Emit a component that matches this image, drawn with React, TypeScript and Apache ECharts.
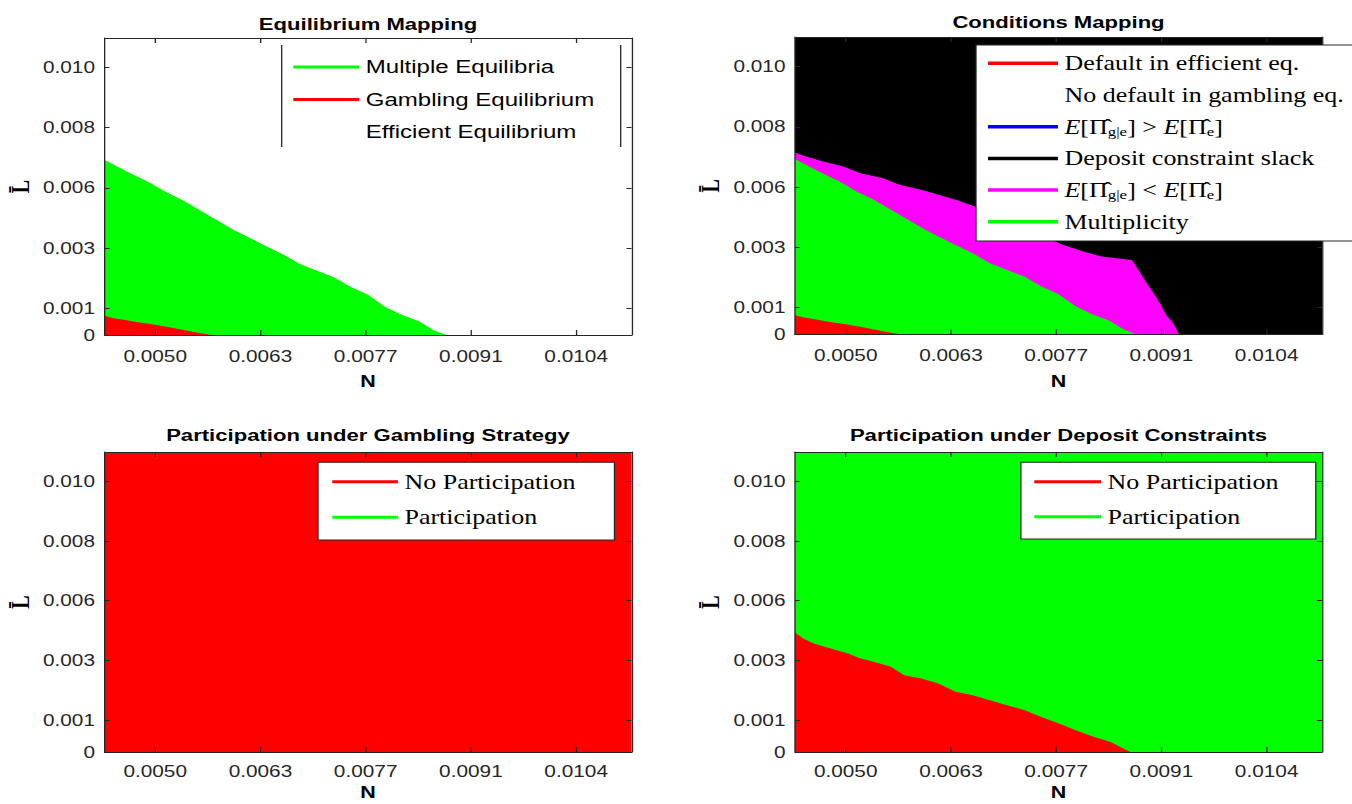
import React, { useEffect, useRef } from "react";
import * as echarts from "echarts";

// The exported figure is stretched horizontally; the chart is drawn narrower and scaled.
const STRETCH = 1.3;
const PAGE_W = 1352;
const PAGE_H = 804;
const u = (px: number) => px / STRETCH;

// ---- axes ----
const X_MIN = 0.00435;
const X_MAX = 0.01111;
const X_TICKS = [0.005, 0.00635, 0.0077, 0.00905, 0.0104];
const X_TICK_LABELS = ["0.0050", "0.0063", "0.0077", "0.0091", "0.0104"];
const Y_MAX = 0.0111;
const Y_MIN_TOP = 0;
const Y_MIN_BOTTOM = -0.0002;
const Y_TICKS = [0.001, 0.00325, 0.0055, 0.00775, 0.01];
const Y_TICK_LABELS = ["0", "0.001", "0.003", "0.006", "0.008", "0.010"];

const TITLES = [
  "Equilibrium Mapping",
  "Conditions Mapping",
  "Participation under Gambling Strategy",
  "Participation under Deposit Constraints",
];

// ---- region boundaries [N, L] (upper edge of each region) ----
const MULTIPLICITY: number[][] = [
  [0.00435, 0.00655], [0.00453, 0.00627], [0.0047, 0.00602], [0.00492, 0.00571],
  [0.00514, 0.00534], [0.00536, 0.00503], [0.00558, 0.00465], [0.0058, 0.00428],
  [0.00602, 0.00391], [0.00619, 0.00366], [0.00641, 0.00334], [0.00663, 0.00303],
  [0.00685, 0.00266], [0.00707, 0.00241], [0.00729, 0.00216], [0.00751, 0.00179],
  [0.00773, 0.0015], [0.00795, 0.00105], [0.00817, 0.00075], [0.00839, 0.0005],
  [0.00856, 0.0002], [0.00873, 0.0],
];
const GAMBLING: number[][] = [
  [0.00435, 0.00072], [0.00445, 0.00064], [0.00462, 0.00056], [0.0048, 0.00047],
  [0.005, 0.00038], [0.0052, 0.00028], [0.0054, 0.00017], [0.00555, 0.00008],
  [0.00572, 0.0],
];
const PROFIT_LESS: number[][] = [
  [0.00435, 0.00679], [0.00448, 0.00665], [0.0047, 0.00646], [0.00497, 0.00627],
  [0.00519, 0.00602], [0.00547, 0.00584], [0.00569, 0.00559], [0.00597, 0.0054],
  [0.00619, 0.00521], [0.00641, 0.00503], [0.00666, 0.00478], [0.0072, 0.0041],
  [0.00779, 0.00334], [0.00806, 0.00309], [0.00828, 0.00291], [0.00867, 0.00278],
  [0.00878, 0.00229], [0.00886, 0.00191], [0.00895, 0.00154], [0.00903, 0.00117],
  [0.00911, 0.00073], [0.0092, 0.00042], [0.00928, 0.0],
];
const NO_PART_DEPOSIT: number[][] = [
  [0.00435, 0.0043], [0.00445, 0.00408], [0.00459, 0.00389], [0.00481, 0.0037],
  [0.00503, 0.00351], [0.00519, 0.00332], [0.00536, 0.0032], [0.00558, 0.00301],
  [0.00575, 0.00269], [0.00597, 0.00257], [0.00619, 0.00238], [0.00641, 0.00207],
  [0.00663, 0.00194], [0.00685, 0.00175], [0.00707, 0.00156], [0.00729, 0.00138],
  [0.00751, 0.00112], [0.00773, 0.00088], [0.00795, 0.00062], [0.00818, 0.00037],
  [0.0084, 0.00018], [0.00856, -0.00007], [0.00865, -0.0002],
];
const FULL: number[][] = [[X_MIN, Y_MAX], [X_MAX, Y_MAX]];

const GT_NAME = "E[Π̂g|e] > E[Π̂e]";
const LT_NAME = "E[Π̂g|e] < E[Π̂e]";
const RICH_NAMES: Record<string, string> = {
  [GT_NAME]: "{it|E}[Π\u0302{sub|g|e}] > {it|E}[Π\u0302{sub|e}]",
  [LT_NAME]: "{it|E}[Π\u0302{sub|g|e}] < {it|E}[Π\u0302{sub|e}]",
};

const RED = "#ff0000";
const GREEN = "#00ff00";
const MAGENTA = "#ff00ff";
const BLUE = "#0000ff";
const BLACK = "#000000";
const WHITE = "#ffffff";
const AXIS = "#262626";

const PANELS = [
  { left: 104.5, top: 38, width: 527, height: 297, ymin: Y_MIN_TOP, titleY: 25, nameGap: 38 },
  { left: 795, top: 37, width: 527, height: 297.5, ymin: Y_MIN_TOP, titleY: 23.5, nameGap: 38 },
  { left: 104.5, top: 452, width: 527, height: 300, ymin: Y_MIN_BOTTOM, titleY: 436.5, nameGap: 32 },
  { left: 795, top: 452, width: 527, height: 300, ymin: Y_MIN_BOTTOM, titleY: 436.5, nameGap: 32 },
];

const pick = (vals: number[], labels: string[]) => (v: number) => {
  let best = 0;
  for (let i = 1; i < vals.length; i++) if (Math.abs(vals[i] - v) < Math.abs(vals[best] - v)) best = i;
  return labels[best];
};

function area(name: string, color: string, data: number[][], panel: number) {
  return {
    type: "line",
    name,
    xAxisIndex: panel * 2,
    yAxisIndex: panel * 2,
    data,
    color,
    symbol: "none",
    showSymbol: false,
    silent: true,
    animation: false,
    lineStyle: { width: 0, color },
    itemStyle: { color },
    areaStyle: { color, opacity: 1, origin: "start" },
    z: 2,
  };
}

function buildOption() {
  const grid = PANELS.map((p) => ({
    left: u(p.left),
    top: p.top,
    width: u(p.width),
    height: p.height,
    show: false,
    containLabel: false,
    outerBoundsMode: "none",
  }));

  const xAxis: any[] = [];
  const yAxis: any[] = [];
  PANELS.forEach((p, i) => {
    const common = {
      type: "value",
      gridIndex: i,
      min: X_MIN,
      max: X_MAX,
      z: 3,
      splitLine: { show: false },
      axisLine: { show: true, onZero: false, lineStyle: { color: AXIS, width: 1 } },
      axisTick: { show: true, inside: true, length: 5, customValues: X_TICKS, lineStyle: { color: AXIS } },
    };
    xAxis.push({
      ...common,
      position: "bottom",
      axisLabel: {
        show: true,
        customValues: X_TICKS,
        formatter: pick(X_TICKS, X_TICK_LABELS),
        margin: i < 2 ? 13 : 11,
        fontSize: 16,
        fontFamily: "Liberation Sans",
        color: AXIS,
      },
      name: "N",
      nameLocation: "middle",
      nameGap: p.nameGap,
      nameMoveOverlap: false,
      nameTextStyle: { fontSize: 16.5, fontWeight: "bold", fontFamily: "Liberation Sans", color: BLACK },
    });
    xAxis.push({ ...common, position: "top", axisLabel: { show: false } });

    const yTicks = [p.ymin, ...Y_TICKS];
    const ycommon = {
      type: "value",
      gridIndex: i,
      min: p.ymin,
      max: Y_MAX,
      z: 3,
      splitLine: { show: false },
      axisLine: { show: true, onZero: false, lineStyle: { color: AXIS, width: 1 } },
      axisTick: { show: true, inside: true, length: u(5), customValues: yTicks, lineStyle: { color: AXIS } },
    };
    yAxis.push({
      ...ycommon,
      position: "left",
      axisLabel: {
        show: true,
        customValues: yTicks,
        formatter: pick(yTicks, Y_TICK_LABELS),
        margin: u(9.5),
        fontSize: 16,
        fontFamily: "Liberation Sans",
        color: AXIS,
      },
      name: "L\u0304",
      nameLocation: "middle",
      nameRotate: 90,
      nameGap: 55,
      nameMoveOverlap: false,
      nameTextStyle: { fontSize: 20, fontWeight: "bold", fontFamily: "Liberation Serif", color: BLACK },
    });
    yAxis.push({ ...ycommon, position: "right", axisLabel: { show: false } });
  });

  const series = [
    // Equilibrium Mapping
    area("Efficient Equilibrium", WHITE, FULL, 0),
    area("Multiple Equilibria", GREEN, MULTIPLICITY, 0),
    area("Gambling Equilibrium", RED, GAMBLING, 0),
    // Conditions Mapping
    area("Deposit constraint slack", BLACK, FULL, 1),
    area(LT_NAME, MAGENTA, PROFIT_LESS, 1),
    area("Multiplicity", GREEN, MULTIPLICITY, 1),
    area("Default in efficient eq.", RED, GAMBLING, 1),
    area("No default in gambling eq.", WHITE, [], 1),
    area(GT_NAME, BLUE, [], 1),
    // Participation under Gambling Strategy
    area("No Participation", RED, FULL, 2),
    area("Participation", GREEN, [], 2),
    // Participation under Deposit Constraints
    area("Participation", GREEN, FULL, 3),
    area("No Participation", RED, NO_PART_DEPOSIT, 3),
  ];

  const serif = {
    fontFamily: "Liberation Serif",
    fontSize: 20,
    color: BLACK,
    lineHeight: 22,
    rich: {
      it: { fontStyle: "italic", fontFamily: "Liberation Serif", fontSize: 20 },
      sub: { fontSize: 13, lineHeight: 14, verticalAlign: "bottom", fontFamily: "Liberation Serif" },
    },
  };

  const legend = [
    {
      orient: "vertical",
      left: u(293.3),
      top: 57,
      padding: 0,
      itemWidth: u(66),
      itemHeight: 3,
      itemGap: 12.5,
      icon: "rect",
      selectedMode: false,
      data: ["Multiple Equilibria", "Gambling Equilibrium", "Efficient Equilibrium"],
      textStyle: { fontFamily: "Liberation Sans", fontSize: 18.5, lineHeight: 20, color: BLACK },
    },
    {
      orient: "vertical",
      left: u(976),
      top: 45,
      padding: [7.3, 9, 8.3, u(12)],
      itemWidth: u(70),
      itemHeight: 3.5,
      itemGap: 9.7,
      icon: "rect",
      selectedMode: false,
      backgroundColor: WHITE,
      borderColor: AXIS,
      borderWidth: 1,
      data: [
        "Default in efficient eq.",
        "No default in gambling eq.",
        GT_NAME,
        "Deposit constraint slack",
        LT_NAME,
        "Multiplicity",
      ],
      formatter: (n: string) => RICH_NAMES[n] ?? n,
      textStyle: serif,
    },
    {
      orient: "vertical",
      left: u(318),
      top: 462.3,
      padding: [8.4, 29.9, 11.7, 11],
      itemWidth: 50.5,
      itemHeight: 3,
      itemGap: 13.6,
      icon: "rect",
      selectedMode: false,
      backgroundColor: WHITE,
      borderColor: AXIS,
      borderWidth: 1,
      data: ["No Participation", "Participation"],
      textStyle: serif,
    },
    {
      orient: "vertical",
      left: u(1020.9),
      top: 462.3,
      padding: [8.4, 28.6, 11.3, 10.3],
      itemWidth: 51.3,
      itemHeight: 3,
      itemGap: 13,
      icon: "rect",
      selectedMode: false,
      backgroundColor: WHITE,
      borderColor: AXIS,
      borderWidth: 1,
      data: ["No Participation", "Participation"],
      textStyle: serif,
    },
  ];

  const title = PANELS.map((p, i) => ({
    text: TITLES[i],
    left: u(p.left + p.width / 2),
    top: p.titleY - 10,
    textAlign: "center",
    padding: 0,
    textStyle: { fontSize: 17, fontWeight: "bold", fontFamily: "Liberation Sans", color: BLACK },
  }));

  const graphic = [
    { type: "line", shape: { x1: u(281.7), y1: 45, x2: u(281.7), y2: 147 }, style: { stroke: AXIS, lineWidth: 1 }, z: 10 },
    { type: "line", shape: { x1: u(620.7), y1: 45, x2: u(620.7), y2: 147 }, style: { stroke: AXIS, lineWidth: 1 }, z: 10 },
  ];

  return {
    animation: false,
    backgroundColor: WHITE,
    grid,
    xAxis,
    yAxis,
    series,
    legend,
    title,
    graphic,
    tooltip: { show: false },
  };
}

export default function App() {
  const ref = useRef<HTMLDivElement>(null);
  useEffect(() => {
    if (!ref.current) return;
    const chart = echarts.init(ref.current, undefined, { renderer: "svg" });
    chart.setOption(buildOption() as any);
    return () => chart.dispose();
  }, []);
  return (
    <div style={{ position: "absolute", left: 0, top: 0, width: PAGE_W, height: PAGE_H, overflow: "hidden", background: "#fff" }}>
      <div
        ref={ref}
        style={{ width: PAGE_W / STRETCH, height: PAGE_H, transform: `scaleX(${STRETCH})`, transformOrigin: "0 0" }}
      />
    </div>
  );
}
